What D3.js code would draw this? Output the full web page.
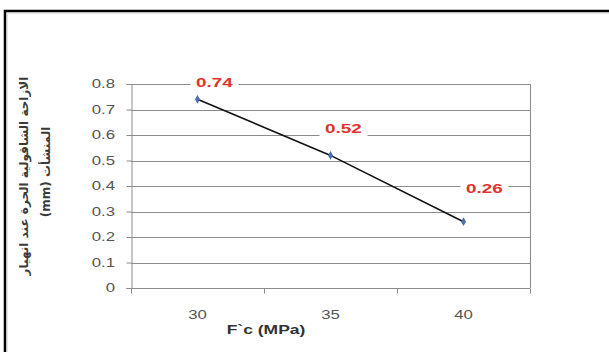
<!DOCTYPE html>
<html>
<head>
<meta charset="utf-8">
<script src="https://cdn.jsdelivr.net/npm/d3@7"></script>
<style>
  html, body { margin: 0; padding: 0; background: #fff; }
  svg { display: block; }
</style>
</head>
<body>
<svg id="chart" width="609" height="352"></svg>
<script>
// Free vertical displacement at collapse vs. concrete strength
const categories = ["30", "35", "40"];
const values = [0.74, 0.52, 0.26];
const yTicks = [0, 0.1, 0.2, 0.3, 0.4, 0.5, 0.6, 0.7, 0.8];
const xTitle = "F`c (MPa)";
const yTitleLines = ["الازاحة الشاقولية الحرة عند انهيار", "المنشأت (mm)"];

// per-label nudges for the value labels (pixels from each marker)
const labelDx = [17, 13, 21];
const labelDy = [-12, -22, -29];

const svg = d3.select("#chart");
const font = "Arial, 'Liberation Sans', 'DejaVu Sans', sans-serif";
const stretch = 1.4; // wide lettering

// outer frame (only top and left edges fall inside the view)
svg.append("rect")
  .attr("x", 5).attr("y", 11)
  .attr("width", 700).attr("height", 400)
  .attr("fill", "#fff")
  .attr("stroke", "#000").attr("stroke-width", 2.5);
svg.append("rect")
  .attr("x", 7.5).attr("y", 13.5)
  .attr("width", 700).attr("height", 400)
  .attr("fill", "none")
  .attr("stroke", "#e6e6e6").attr("stroke-width", 1);

const plot = { left: 131, right: 530, top: 84, bottom: 288 };

const x = d3.scaleBand().domain(categories).range([plot.left, plot.right]);
const y = d3.scaleLinear().domain([0, 0.8]).range([plot.bottom, plot.top]);

// helper: stretched text anchored at (px, py)
function wideText(parent, px, py, str, opts) {
  const g = parent.append("g").attr("transform", `translate(${px},${py}) scale(${stretch},1)`);
  return g.append("text")
    .attr("text-anchor", opts.anchor || "middle")
    .attr("dy", opts.dy || 0)
    .attr("font-family", font)
    .attr("font-size", opts.size)
    .attr("font-weight", opts.weight || "normal")
    .attr("fill", opts.fill)
    .text(str);
}

// horizontal gridlines
svg.append("g")
  .selectAll("line")
  .data(yTicks)
  .join("line")
  .attr("x1", plot.left).attr("x2", plot.right)
  .attr("y1", d => Math.round(y(d)) + 0.5).attr("y2", d => Math.round(y(d)) + 0.5)
  .attr("stroke", "#8c8c8c").attr("stroke-width", 1);

// right edge of plot area
svg.append("line")
  .attr("x1", plot.right + 0.5).attr("x2", plot.right + 0.5)
  .attr("y1", plot.top).attr("y2", plot.bottom)
  .attr("stroke", "#8c8c8c");

// y axis
const yAxis = svg.append("g")
  .attr("transform", `translate(${plot.left + 0.5},0)`)
  .call(d3.axisLeft(y).tickValues(yTicks).tickSize(5).tickFormat(() => ""));
yAxis.select(".domain").attr("stroke", "#8c8c8c");
yAxis.selectAll(".tick line").attr("stroke", "#8c8c8c");
const yLab = svg.append("g");
yTicks.forEach(t => {
  wideText(yLab, 115, y(t), t === 0 ? "0" : d3.format(".1f")(t),
    { anchor: "end", dy: "0.35em", size: 12, fill: "#555" });
});

// x axis: ticks sit on the category boundaries
const xAxisG = svg.append("g")
  .attr("transform", `translate(0,${Math.round(y(0)) + 0.5})`);
xAxisG.append("line")
  .attr("x1", plot.left).attr("x2", plot.right)
  .attr("stroke", "#8c8c8c");
const bounds = categories.map(c => x(c)).concat([x(categories[categories.length - 1]) + x.bandwidth()]);
xAxisG.selectAll("line.tk")
  .data(bounds)
  .join("line").attr("class", "tk")
  .attr("x1", d => Math.round(d) + 0.5).attr("x2", d => Math.round(d) + 0.5)
  .attr("y1", 0).attr("y2", 5)
  .attr("stroke", "#8c8c8c");
categories.forEach(c => {
  wideText(xAxisG, x(c) + x.bandwidth() / 2, 30, c, { size: 12, fill: "#555" });
});

// x axis title
wideText(svg, 266, 334, xTitle, { size: 12.5, weight: "bold", fill: "#333" });

// y axis title (two rotated lines)
const yTitle = svg.append("g");
yTitleLines.forEach((line, i) => {
  yTitle.append("text")
    .attr("transform", `translate(${28 + i * 22},${i === 0 ? 176 : 172}) rotate(-90)`)
    .attr("text-anchor", "middle")
    .attr("direction", "rtl")
    .attr("font-family", "'DejaVu Sans', Arial, sans-serif")
    .attr("font-size", 12)
    .attr("font-weight", "bold")
    .attr("fill", "#3a3a3a")
    .text(line);
});

// data line
const pts = categories.map((c, i) => ({ c, v: values[i], i }));
const cx = d => x(d.c) + x.bandwidth() / 2;
svg.append("path")
  .datum(pts)
  .attr("fill", "none")
  .attr("stroke", "#111").attr("stroke-width", 1.6)
  .attr("d", d3.line().x(cx).y(d => y(d.v)));

// markers
svg.append("g")
  .selectAll("path")
  .data(pts)
  .join("path")
  .attr("transform", d => `translate(${cx(d)},${y(d.v)})`)
  .attr("d", d3.symbol(d3.symbolDiamond, 22))
  .attr("fill", "#4a6fb0");

// value labels with white backing
const labels = svg.append("g");
pts.forEach(d => {
  const lx = cx(d) + labelDx[d.i];
  const ly = y(d.v) + labelDy[d.i];
  labels.append("rect")
    .attr("x", lx - 24).attr("y", ly - 12).attr("width", 48).attr("height", 16)
    .attr("fill", "#fff");
  wideText(labels, lx, ly, d3.format(".2f")(d.v),
    { size: 13.5, weight: "bold", fill: "#e2322d" });
});
</script>
</body>
</html>
